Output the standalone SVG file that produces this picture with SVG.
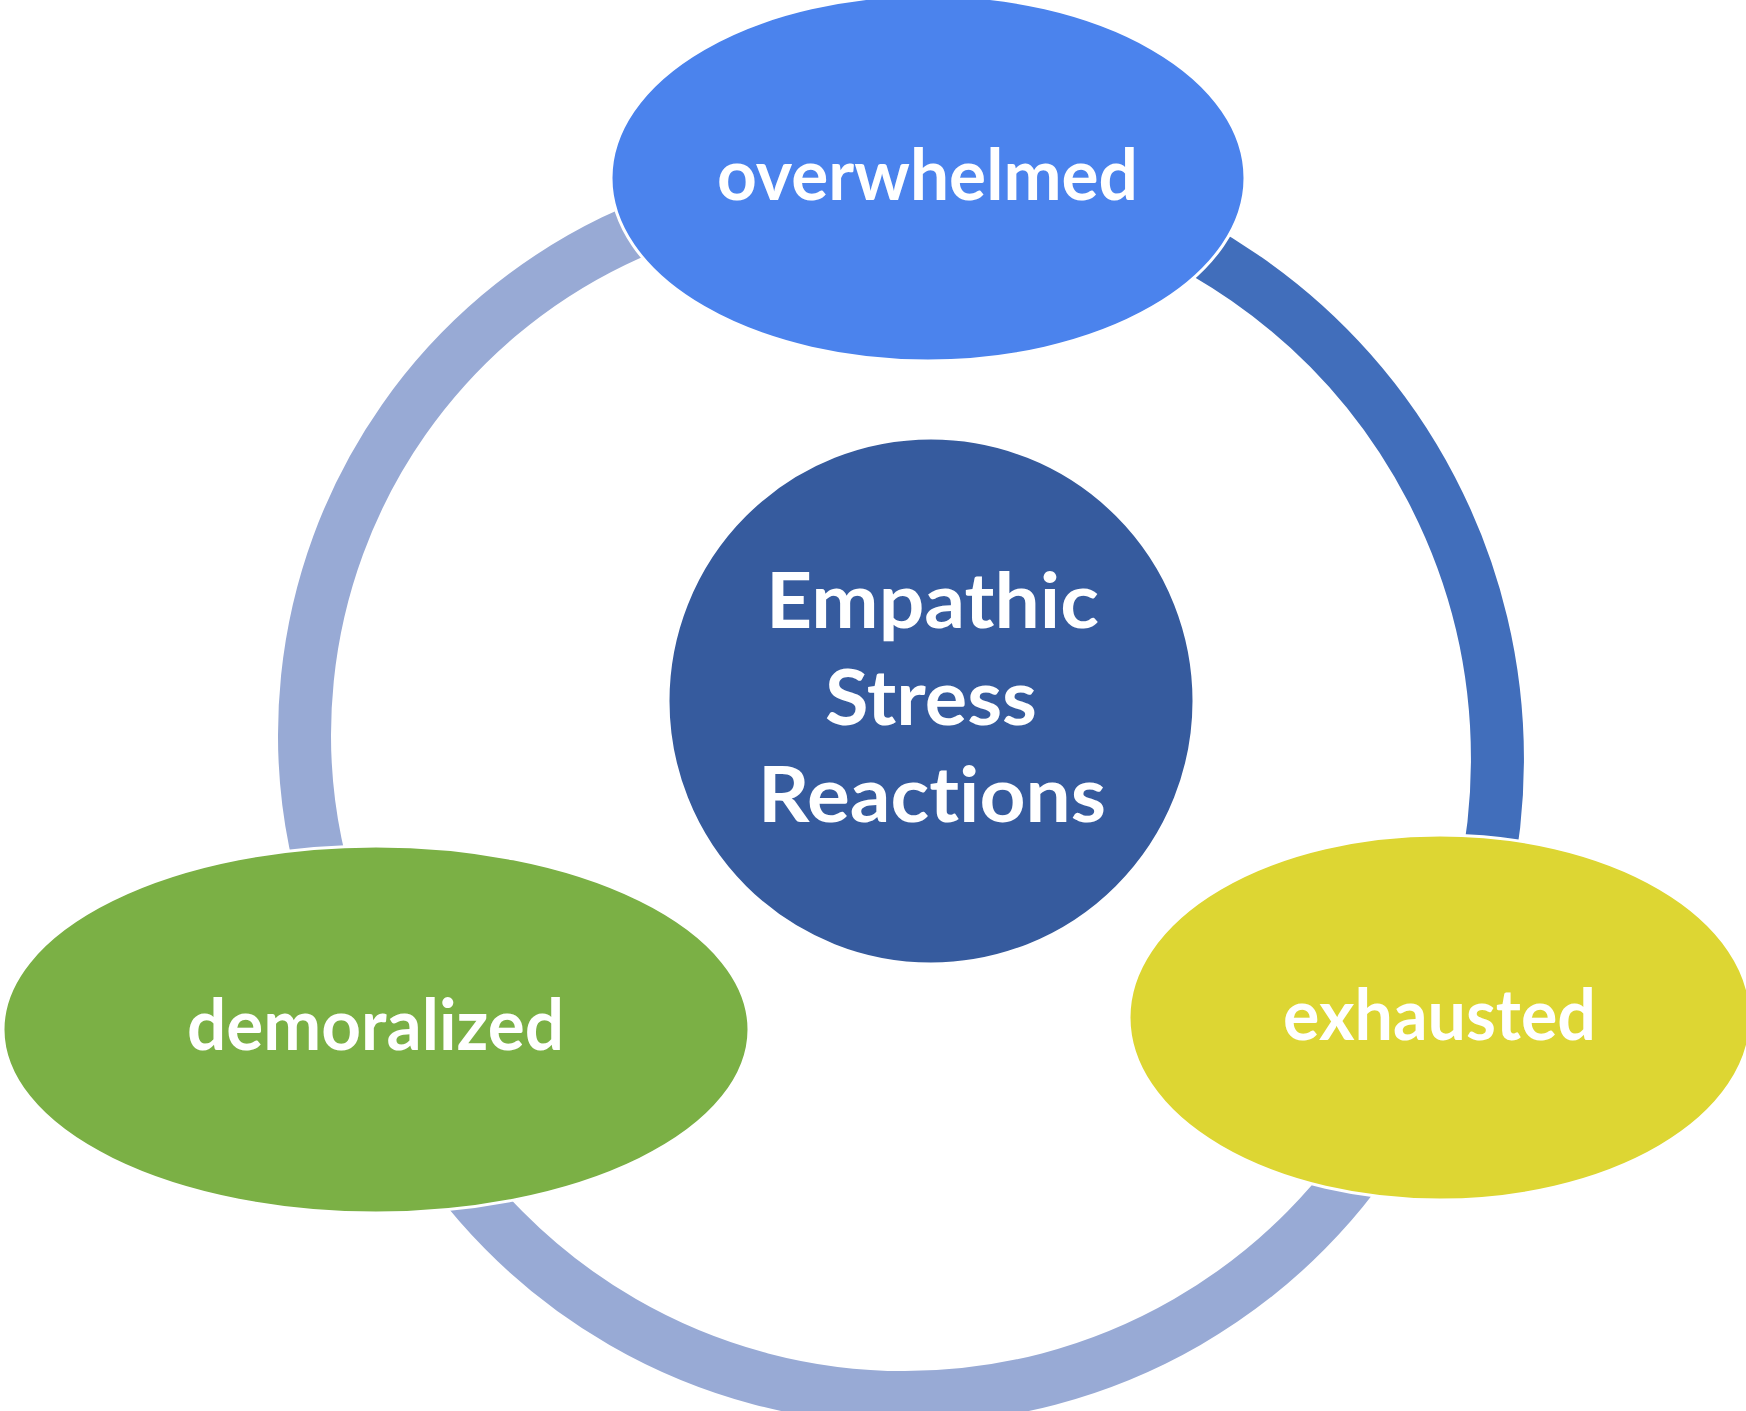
<svg xmlns="http://www.w3.org/2000/svg" width="1746" height="1411" viewBox="0 0 1746 1411">
<style>
.arc{fill:none;stroke-width:53;stroke-linecap:butt}
.light{stroke:#98AAD5}
.dark{stroke:#416EBB}
.node{stroke:#FFFFFF;stroke-width:3}
.lbl{font-family:Lato,"Open Sans","Liberation Sans",sans-serif;font-weight:bold;fill:#FFFFFF;text-anchor:middle;font-variant-ligatures:none;font-feature-settings:"liga" 0}
</style>
<rect width="1746" height="1411" fill="#FFFFFF"/>
<g id="connectors">
<path class="arc light" d="M 852 186.5 A 547.5 547.5 0 0 0 337.5 921"/>
<path class="arc dark" d="M 1014.5 183.4 A 584.5 584.5 0 0 1 1442.7 1006"/>
<path class="arc light" d="M 416.1 1115.3 A 564.5 564.5 0 0 0 1393.9 1115.3"/>
</g>
<g id="node-overwhelmed">
<ellipse class="node" cx="928" cy="178" rx="317" ry="183" fill="#4B83ED"/>
<text class="lbl" x="927.5" y="200" font-size="70" textLength="421" lengthAdjust="spacingAndGlyphs">overwhelmed</text>
</g>
<g id="node-demoralized">
<ellipse class="node" cx="376" cy="1029.5" rx="373" ry="183.5" fill="#7BB045"/>
<text class="lbl" x="375.5" y="1050" font-size="70" textLength="377" lengthAdjust="spacingAndGlyphs">demoralized</text>
</g>
<g id="node-exhausted">
<ellipse class="node" cx="1440" cy="1017.5" rx="311" ry="182.5" fill="#DDD633"/>
<text class="lbl" x="1439.5" y="1040" font-size="70" textLength="313" lengthAdjust="spacingAndGlyphs">exhausted</text>
</g>
<g id="node-center">
<circle class="node" cx="931" cy="701" r="263" fill="#365B9E"/>
<text class="lbl" x="932.5" y="628" font-size="77" textLength="333" lengthAdjust="spacingAndGlyphs">Empathic</text>
<text class="lbl" x="931" y="725" font-size="77" textLength="212" lengthAdjust="spacingAndGlyphs">Stress</text>
<text class="lbl" x="932" y="822" font-size="77" textLength="348" lengthAdjust="spacingAndGlyphs">Reactions</text>
</g>
</svg>
